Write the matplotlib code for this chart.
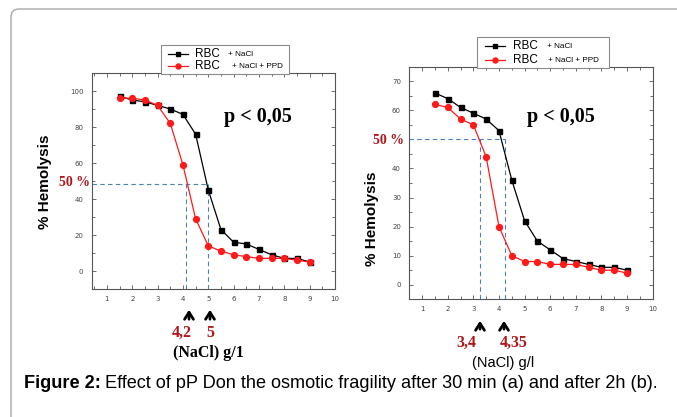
import matplotlib
matplotlib.use("Agg")
import matplotlib.pyplot as plt
from matplotlib.lines import Line2D
from matplotlib.patches import Rectangle, FancyBboxPatch
from matplotlib.transforms import IdentityTransform
from matplotlib.ticker import MultipleLocator

# ---------------- data ----------------
nacl = [1.5, 2, 2.5, 3, 3.5, 4, 4.5, 5, 5.5, 6, 6.5, 7, 7.5, 8, 8.5, 9]
a_rbc = [97, 95, 94, 92, 90, 87, 76, 45, 23, 16, 15, 12, 9, 7, 7, 5]
a_ppd = [96, 96, 95, 92, 82, 59, 29, 14, 11, 9, 8, 7, 7, 7, 6, 5]
b_rbc = [66, 64, 61, 59, 57, 53, 36, 22, 15, 12, 9, 8, 7, 6, 6, 5]
b_ppd = [62, 61, 57, 55, 44, 20, 10, 8, 8, 7, 7, 7, 6, 5, 5, 4]

a_half_y = 48.5
a_half_x = [4.13, 5.0]
b_half_y = 50
b_half_x = [3.24, 4.22]

a_arrow_labels = ["4,2", "5"]
b_arrow_labels = ["3,4", "4,35"]

W, H = 677, 417
fig = plt.figure(figsize=(W / 100, H / 100), dpi=100)
fig.patch.set_facecolor("white")


def fx(x):
    return x / W


def fy(y):
    return 1 - y / H


# panel border (rounded, top-left)
border = FancyBboxPatch((11, -30), 720, H - 9 + 30, boxstyle="round,pad=0,rounding_size=8",
                        transform=IdentityTransform(), fill=False, ec="#a8a8a8", lw=1.0)
fig.patches.append(border)

RED = "#ff1a1a"
DARKRED = "#b2161b"
DASH = "#4d7fb8"
SERIF = "Liberation Serif"
SANS = "Liberation Sans"


def make_panel(rect, xlim, ylim, ymajor, yminor, rbc, ppd, half_y, half_x, hide_label=None):
    ax = fig.add_axes(rect)
    ax.set_xlim(*xlim)
    ax.set_ylim(*ylim)
    ax.plot(nacl, rbc, color="black", lw=0.9, marker="s", ms=3.6, mec="black", mfc="black", zorder=3)
    ax.plot(nacl, ppd, color=RED, lw=0.9, marker="o", ms=4.2, mec=RED, mfc=RED, zorder=3)
    # guide lines for 50 %
    ax.plot([xlim[0], max(half_x)], [half_y, half_y], color=DASH, lw=0.8, ls=(0, (4, 3)), zorder=2)
    for hx in half_x:
        ax.plot([hx, hx], [ylim[0], half_y], color=DASH, lw=0.8, ls=(0, (4, 3)), zorder=2)
    ax.xaxis.set_major_locator(MultipleLocator(1))
    ax.xaxis.set_minor_locator(MultipleLocator(0.5))
    ax.yaxis.set_minor_locator(MultipleLocator(yminor))
    yt = list(range(0, int(ylim[1]) + 1, ymajor))
    ax.set_yticks(yt)
    ax.set_yticklabels(["" if t == hide_label else str(t) for t in yt])
    ax.tick_params(which="both", direction="in", top=True, right=True, colors="#555555",
                   labelcolor="#444444", labelsize=5, width=0.6)
    ax.tick_params(which="major", length=3)
    ax.tick_params(which="minor", length=2)
    ax.tick_params(axis="y", pad=6)
    ax.tick_params(axis="x", pad=5)
    xt = [t for t in range(1, 11)]
    ax.set_xticks(xt)
    ax.set_xticklabels([str(t) for t in xt])
    for s in ax.spines.values():
        s.set_color("#555555")
        s.set_linewidth(0.8)
    return ax


axA = make_panel([fx(91.7), fy(289), fx(335) - fx(91.7), fy(73) - fy(289)],
                 (0.4, 10), (-10, 110), 20, 10, a_rbc, a_ppd, a_half_y, a_half_x)
axB = make_panel([fx(409.3), fy(299.3), fx(652.7) - fx(409.3), fy(66.7) - fy(299.3)],
                 (0.5, 10), (-5, 75), 10, 5, b_rbc, b_ppd, b_half_y, b_half_x, hide_label=50)


def legend_box(ax, x0, x1, y0, y1, handle_x, text_x, small_x, rows_y, small_labels):
    box = Rectangle((fx(x0), fy(y1)), fx(x1) - fx(x0), fy(y0) - fy(y1), transform=fig.transFigure,
                    facecolor="white", edgecolor="#8a8a8a", lw=0.8, clip_on=False, zorder=6)
    ax.add_patch(box)
    styles = [("black", "s", 3.2), (RED, "o", 3.6)]
    for (c, m, ms), ry, lab, sx in zip(styles, rows_y, small_labels, small_x):
        ln = Line2D([fx(handle_x[0]), fx(handle_x[1])], [fy(ry), fy(ry)], color=c, lw=0.9,
                    transform=fig.transFigure, clip_on=False, zorder=7)
        ax.add_line(ln)
        mk = Line2D([fx((handle_x[0] + handle_x[1]) / 2)], [fy(ry)], color=c, marker=m, ms=ms,
                    transform=fig.transFigure, clip_on=False, zorder=7)
        ax.add_line(mk)
        ax.text(fx(text_x), fy(ry), "RBC", transform=fig.transFigure, fontsize=8.5, family=SANS,
                va="center", ha="left", zorder=8, clip_on=False)
        ax.text(fx(sx), fy(ry), lab, transform=fig.transFigure, fontsize=5.9, family=SANS,
                va="center", ha="left", zorder=8, clip_on=False)


legend_box(axA, 160.7, 289.3, 45, 74, (168, 188), 195, (228, 232), (54, 66),
           ["+ NaCl", "+ NaCl + PPD"])
legend_box(axB, 476.7, 609.3, 37.3, 67.5, (485, 505), 513, (547, 548), (46, 60),
           ["+ NaCl", "+ NaCl + PPD"])

# p < 0,05
fig.text(fx(224), fy(117), "p < 0,05", family=SERIF, weight="bold", fontsize=14.5, va="center", ha="left")
fig.text(fx(526.7), fy(117), "p < 0,05", family=SERIF, weight="bold", fontsize=14.5, va="center", ha="left")

# 50 %
fig.text(fx(59), fy(183), "50 %", family=SERIF, weight="bold", fontsize=10, color=DARKRED, va="center", ha="left")
fig.text(fx(372.7), fy(140), "50 %", family=SERIF, weight="bold", fontsize=10, color=DARKRED, va="center", ha="left")

# y labels
fig.text(fx(45), fy(182), "% Hemolysis", family=SANS, weight="bold", fontsize=11, rotation=90,
         va="center", ha="center")
fig.text(fx(371.7), fy(219), "% Hemolysis", family=SANS, weight="bold", fontsize=11, rotation=90,
         va="center", ha="center")


# arrows and values
def arrows(xs_px, y_bot, y_top):
    for x in xs_px:
        fig.add_artist(plt.Annotation("", xy=(fx(x), fy(y_top)), xytext=(fx(x), fy(y_bot)),
                                      xycoords="figure fraction", textcoords="figure fraction",
                                      arrowprops=dict(arrowstyle="->,head_length=0.5,head_width=0.32",
                                                      lw=2.0, color="black")))


arrows([189, 210], 322, 307)
arrows([480, 504], 332, 318)

fig.text(fx(181.7), fy(332.7), a_arrow_labels[0], family=SERIF, weight="bold", fontsize=11.5,
         color=DARKRED, ha="center", va="center")
fig.text(fx(210.7), fy(332.7), a_arrow_labels[1], family=SERIF, weight="bold", fontsize=11.5,
         color=DARKRED, ha="center", va="center")
fig.text(fx(466.7), fy(342.7), b_arrow_labels[0], family=SERIF, weight="bold", fontsize=11.5,
         color=DARKRED, ha="center", va="center")
fig.text(fx(514), fy(342.7), b_arrow_labels[1], family=SERIF, weight="bold", fontsize=11.5,
         color=DARKRED, ha="center", va="center")

fig.text(fx(208), fy(353), "(NaCl) g/1", family=SERIF, weight="bold", fontsize=11.5, ha="center", va="center")
fig.text(fx(503), fy(363), "(NaCl) g/l", family=SANS, fontsize=10.5, ha="center", va="center")

# caption (fit to the reference width)
cap_rest = "Effect of pP Don the osmotic fragility after 30 min (a) and after 2h (b)."
r = fig.canvas.get_renderer()
size = 11.5
for _ in range(2):
    tb = fig.text(0, 0, "Figure 2:", family=SANS, weight="bold", fontsize=size)
    tr = fig.text(0, 0, cap_rest, family=SANS, fontsize=size)
    total = tb.get_window_extent(r).width + tr.get_window_extent(r).width + size * 0.3
    tb.remove()
    tr.remove()
    size = size * (636 / total)
cap_b = fig.text(fx(24), fy(384), "Figure 2:", family=SANS, weight="bold", fontsize=size,
                 ha="left", va="center")
bb = cap_b.get_window_extent(r)
fig.text((bb.x1 + size * 0.3) / W, fy(384), cap_rest, family=SANS, fontsize=size, ha="left", va="center")

fig.savefig("out.png", dpi=100)
